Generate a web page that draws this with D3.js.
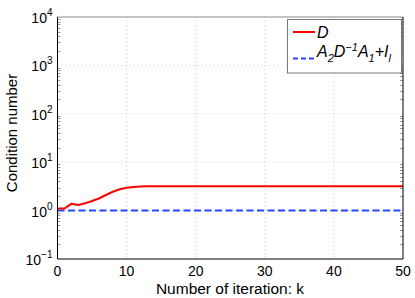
<!DOCTYPE html>
<html>
<head>
<meta charset="UTF-8">
<title>Condition number</title>
<style>
  body { margin: 0; background: #fff; }
  text { font-family: "Liberation Sans", Arial, sans-serif; }
  .grid line { stroke: #c8c8c8; stroke-dasharray: 1,3; }
</style>
<script src="https://cdn.jsdelivr.net/npm/d3@7"></script>
</head>
<body>
<script>
// datos
var iteraciones = d3.range(0, 51);
var condD = [1.10, 1.10, 1.38, 1.30, 1.42, 1.58, 1.78, 2.10, 2.45, 2.75, 2.96,
             3.08, 3.14, 3.17, 3.19, 3.20, 3.20, 3.20, 3.20, 3.20, 3.20,
             3.20, 3.20, 3.20, 3.20, 3.20, 3.20, 3.20, 3.20, 3.20, 3.20,
             3.20, 3.20, 3.20, 3.20, 3.20, 3.20, 3.20, 3.20, 3.20, 3.20,
             3.20, 3.20, 3.20, 3.20, 3.20, 3.20, 3.20, 3.20, 3.20, 3.20];
var condPrec = [1.0, 1.0, 1.0, 1.0, 1.0, 1.0, 1.0, 1.0, 1.0, 1.0, 1.0,
                1.0, 1.0, 1.0, 1.0, 1.0, 1.0, 1.0, 1.0, 1.0, 1.0,
                1.0, 1.0, 1.0, 1.0, 1.0, 1.0, 1.0, 1.0, 1.0, 1.0,
                1.0, 1.0, 1.0, 1.0, 1.0, 1.0, 1.0, 1.0, 1.0, 1.0,
                1.0, 1.0, 1.0, 1.0, 1.0, 1.0, 1.0, 1.0, 1.0, 1.0];
var xTicks = [0, 10, 20, 30, 40, 50];
var yExps = [-1, 0, 1, 2, 3, 4];

var ancho = 415, alto = 298;
var m = { left: 57.5, right: 403, top: 17, bottom: 259 };

var svg = d3.select("body").append("svg")
  .attr("width", ancho).attr("height", alto);

var x = d3.scaleLinear().domain([0, 50]).range([m.left, m.right]);
var y = d3.scaleLog().domain([0.1, 10000]).range([m.bottom, m.top]);

// rejilla punteada
var grid = svg.append("g").attr("class", "grid");
grid.selectAll(".gx").data(xTicks.slice(1, -1)).enter().append("line")
  .attr("x1", function(d) { return x(d); }).attr("x2", function(d) { return x(d); })
  .attr("y1", m.top).attr("y2", m.bottom);
grid.selectAll(".gy").data(yExps.slice(1, -1)).enter().append("line")
  .attr("x1", m.left).attr("x2", m.right)
  .attr("y1", function(d) { return y(Math.pow(10, d)); })
  .attr("y2", function(d) { return y(Math.pow(10, d)); });

// marcas menores del eje log (por dentro)
var menores = [];
yExps.slice(0, -1).forEach(function(e) {
  for (var k = 2; k <= 9; k++) menores.push(k * Math.pow(10, e));
});
var tk = svg.append("g").attr("stroke", "#999").attr("stroke-width", 1);
tk.selectAll(".ml").data(menores).enter().append("line")
  .attr("x1", m.left).attr("x2", m.left + 3)
  .attr("y1", function(d) { return Math.round(y(d)) + 0.5; })
  .attr("y2", function(d) { return Math.round(y(d)) + 0.5; });
tk.selectAll(".mr").data(menores).enter().append("line")
  .attr("x1", m.right).attr("x2", m.right - 3)
  .attr("y1", function(d) { return Math.round(y(d)) + 0.5; })
  .attr("y2", function(d) { return Math.round(y(d)) + 0.5; });

// lineas
var lineaD = d3.line()
  .x(function(d, i) { return x(iteraciones[i]); })
  .y(function(d) { return y(d); });

svg.append("path").datum(condPrec)
  .attr("d", lineaD)
  .attr("fill", "none").attr("stroke", "#2846ff")
  .attr("stroke-width", 2).attr("stroke-dasharray", "7,3.5");

svg.append("path").datum(condD)
  .attr("d", lineaD)
  .attr("fill", "none").attr("stroke", "#ff0000")
  .attr("stroke-width", 2);

// marco
svg.append("line").attr("x1", m.left).attr("x2", m.right)
  .attr("y1", m.top).attr("y2", m.top).attr("stroke", "#888");
svg.append("line").attr("x1", m.left).attr("x2", m.right)
  .attr("y1", m.bottom).attr("y2", m.bottom).attr("stroke", "#000");
svg.append("line").attr("x1", m.left).attr("x2", m.left)
  .attr("y1", m.top).attr("y2", m.bottom).attr("stroke", "#000");
svg.append("line").attr("x1", m.right).attr("x2", m.right)
  .attr("y1", m.top).attr("y2", m.bottom).attr("stroke", "#000");

// etiquetas del eje x
svg.selectAll(".xl").data(xTicks).enter().append("text")
  .attr("x", function(d) { return x(d); }).attr("y", 276)
  .attr("text-anchor", "middle").attr("font-size", 14)
  .text(function(d) { return d; });

// etiquetas del eje y: 10^e
var yl = svg.selectAll(".yl").data(yExps).enter().append("text")
  .attr("x", m.left - 5).attr("y", function(d) { return y(Math.pow(10, d)) + 6; })
  .attr("text-anchor", "end").attr("font-size", 14);
yl.append("tspan").text("10");
yl.append("tspan").attr("dy", -7).attr("font-size", 10)
  .text(function(d) { return d < 0 ? "\u2212" + (-d) : d; });

// titulos
svg.append("text").attr("x", 230).attr("y", 293.5)
  .attr("text-anchor", "middle").attr("font-size", 15.5)
  .text("Number of iteration: k");
svg.append("text")
  .attr("transform", "translate(17,133) rotate(-90)")
  .attr("text-anchor", "middle").attr("font-size", 15)
  .text("Condition number");

// leyenda
var ley = svg.append("g");
ley.append("rect").attr("x", 287.5).attr("y", 19.5)
  .attr("width", 114).attr("height", 53.5)
  .attr("fill", "#fff").attr("stroke", "#777");
ley.append("line").attr("x1", 293).attr("x2", 315).attr("y1", 32).attr("y2", 32)
  .attr("stroke", "#ff0000").attr("stroke-width", 2);
ley.append("line").attr("x1", 293).attr("x2", 315).attr("y1", 58.5).attr("y2", 58.5)
  .attr("stroke", "#2846ff").attr("stroke-width", 2).attr("stroke-dasharray", "5,3");
ley.append("text").attr("x", 317).attr("y", 38)
  .attr("font-size", 16).attr("font-style", "italic").text("D");
var t2 = ley.append("text").attr("x", 317).attr("y", 57)
  .attr("font-size", 16).attr("font-style", "italic");
t2.append("tspan").text("A");
t2.append("tspan").attr("dy", 5).attr("font-size", 11).text("2");
t2.append("tspan").attr("dy", -5).text("D");
t2.append("tspan").attr("dy", -6).attr("font-size", 11).text("\u22121");
t2.append("tspan").attr("dy", 6).text("A");
t2.append("tspan").attr("dy", 5).attr("font-size", 11).text("1");
t2.append("tspan").attr("dy", -5).text("+I");
t2.append("tspan").attr("dy", 5).attr("font-size", 11).text("l");
</script>
</body>
</html>
